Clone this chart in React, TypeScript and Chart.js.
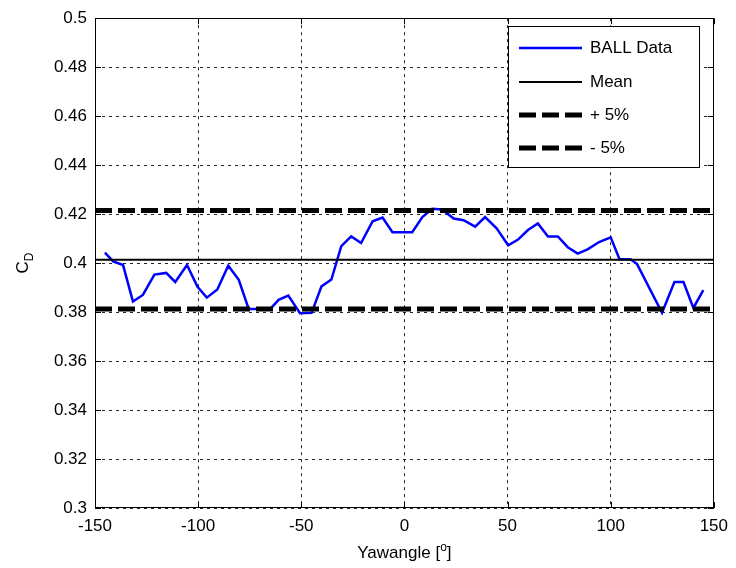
import React, { useEffect, useRef } from "react";
import { Chart, registerables } from "chart.js";

Chart.register(...registerables);

// Yaw angle [deg] and measured drag coefficient for the ball
const yawAngle = [
  -145.2, -141.2, -136.4, -131.6, -126.8, -121.2, -115.5, -111.1, -105.4, -100.3,
  -95.8, -90.7, -85.4, -80.3, -75.5, -65.0, -61.0, -56.3, -50.6, -45.0,
  -40.2, -35.4, -30.6, -25.8, -21.0, -15.4, -10.6, -5.8, 3.8, 8.7,
  13.5, 18.3, 23.9, 28.7, 34.3, 39.1, 44.7, 50.3, 55.1, 59.9,
  64.7, 69.6, 74.4, 79.2, 84.0, 88.8, 94.4, 100.0, 104.3, 109.6,
  112.8, 124.9, 130.9, 135.3, 140.1, 144.9,
];
const cdBall = [
  0.4043, 0.4007, 0.3992, 0.3843, 0.387, 0.3953, 0.396, 0.3923, 0.3992, 0.3903,
  0.3859, 0.3892, 0.3989, 0.3932, 0.3813, 0.3813, 0.385, 0.3867, 0.3795, 0.3797,
  0.3905, 0.3933, 0.4069, 0.4109, 0.4082, 0.4171, 0.4186, 0.4126, 0.4126, 0.4188,
  0.4222, 0.4219, 0.4182, 0.4175, 0.4149, 0.4188, 0.4142, 0.4073, 0.4096, 0.4135,
  0.4162, 0.4109, 0.4109, 0.4065, 0.4039, 0.4056, 0.4086, 0.4105, 0.4016, 0.4016,
  0.3996, 0.3797, 0.3923, 0.3923, 0.3817, 0.389,
];

// Reference levels across the full yaw range
const rangeX = [-150, 150];
const meanCd = 0.4014;
const plusBand = 0.4215;
const minusBand = 0.3813;

const legendLabels = ["BALL Data", "Mean", "+ 5%", "- 5%"];

const FONT = "'Liberation Sans', Arial, sans-serif";
const fmtY = (v: number) => parseFloat(v.toFixed(2)).toString();

const matlabFrame = {
  id: "matlabFrame",
  afterDraw(chart: any) {
    const { ctx, chartArea, scales } = chart;
    const { left, right, top, bottom } = chartArea;
    const xs = scales.x;
    const ys = scales.y;
    ctx.save();
    ctx.strokeStyle = "#000";
    ctx.lineWidth = 1;
    ctx.setLineDash([]);
    // axes box
    ctx.strokeRect(Math.round(left) + 0.5, Math.round(top) + 0.5, Math.round(right - left) - 1, Math.round(bottom - top) - 1);
    // inward tick marks
    const tl = 6;
    ctx.beginPath();
    xs.ticks.forEach((t: any) => {
      const px = Math.round(xs.getPixelForValue(t.value)) + 0.5;
      ctx.moveTo(px, bottom);
      ctx.lineTo(px, bottom - tl);
      ctx.moveTo(px, top);
      ctx.lineTo(px, top + tl);
    });
    ys.ticks.forEach((t: any) => {
      const py = Math.round(ys.getPixelForValue(t.value)) + 0.5;
      ctx.moveTo(left, py);
      ctx.lineTo(left + tl, py);
      ctx.moveTo(right, py);
      ctx.lineTo(right - tl, py);
    });
    ctx.stroke();

    // legend box
    const lx = 508, ly = 26, lw = 191, lh = 141;
    ctx.fillStyle = "#fff";
    ctx.fillRect(lx, ly, lw, lh);
    ctx.strokeRect(lx + 0.5, ly + 0.5, lw, lh);
    const rows = [48, 82, 115, 148];
    const styles = [
      { color: "#0000ff", width: 2.5, dash: [] as number[] },
      { color: "#000", width: 2, dash: [] as number[] },
      { color: "#000", width: 5, dash: [17, 6] },
      { color: "#000", width: 5, dash: [17, 6] },
    ];
    ctx.font = `17px ${FONT}`;
    ctx.textBaseline = "middle";
    ctx.textAlign = "left";
    rows.forEach((ry, i) => {
      const s = styles[i];
      ctx.beginPath();
      ctx.strokeStyle = s.color;
      ctx.lineWidth = s.width;
      ctx.setLineDash(s.dash);
      ctx.moveTo(519, ry);
      ctx.lineTo(582, ry);
      ctx.stroke();
      ctx.setLineDash([]);
      ctx.fillStyle = "#000";
      ctx.fillText(legendLabels[i], 590, ry);
    });

    // x axis title with superscript degree mark
    ctx.fillStyle = "#000";
    ctx.textBaseline = "alphabetic";
    const base = "Yawangle [";
    const sup = "o";
    const close = "]";
    ctx.font = `17px ${FONT}`;
    const wBase = ctx.measureText(base).width;
    const wClose = ctx.measureText(close).width;
    ctx.font = `12px ${FONT}`;
    const wSup = ctx.measureText(sup).width;
    const total = wBase + wSup + wClose;
    const cx = (left + right) / 2;
    let sx = cx - total / 2;
    const by = 558;
    ctx.font = `17px ${FONT}`;
    ctx.fillText(base, sx, by);
    sx += wBase;
    ctx.font = `12px ${FONT}`;
    ctx.fillText(sup, sx, by - 7);
    sx += wSup;
    ctx.font = `17px ${FONT}`;
    ctx.fillText(close, sx, by);

    // y axis title C_D, rotated
    ctx.save();
    ctx.translate(28, (top + bottom) / 2);
    ctx.rotate(-Math.PI / 2);
    ctx.font = `17px ${FONT}`;
    const wC = ctx.measureText("C").width;
    ctx.font = `12px ${FONT}`;
    const wD = ctx.measureText("D").width;
    const start = -(wC + wD) / 2;
    ctx.font = `17px ${FONT}`;
    ctx.fillText("C", start, 0);
    ctx.font = `12px ${FONT}`;
    ctx.fillText("D", start + wC, 5);
    ctx.restore();

    ctx.restore();
  },
};

export default function App() {
  const ref = useRef<HTMLCanvasElement>(null);

  useEffect(() => {
    if (!ref.current) return;
    const ballPoints = yawAngle.map((x, i) => ({ x, y: cdBall[i] }));
    const level = (v: number) => rangeX.map((x) => ({ x, y: v }));
    const chart = new Chart(ref.current, {
      type: "line",
      data: {
        datasets: [
          {
            label: legendLabels[0],
            data: ballPoints,
            borderColor: "#0000ff",
            borderWidth: 2.5,
            pointRadius: 0,
            tension: 0,
            order: 4,
          },
          {
            label: legendLabels[1],
            data: level(meanCd),
            borderColor: "#000",
            borderWidth: 2,
            pointRadius: 0,
            order: 3,
          },
          {
            label: legendLabels[2],
            data: level(plusBand),
            borderColor: "#000",
            borderWidth: 5,
            borderDash: [17, 6],
            pointRadius: 0,
            order: 2,
          },
          {
            label: legendLabels[3],
            data: level(minusBand),
            borderColor: "#000",
            borderWidth: 5,
            borderDash: [17, 6],
            pointRadius: 0,
            order: 1,
          },
        ],
      },
      options: {
        responsive: false,
        animation: false,
        events: [],
        layout: { padding: { left: 0, top: 8, right: 16, bottom: 0 } },
        plugins: { legend: { display: false }, tooltip: { enabled: false } },
        scales: {
          x: {
            type: "linear",
            min: -150,
            max: 150,
            afterFit: (s: any) => {
              s.height = 60;
            },
            ticks: {
              stepSize: 50,
              autoSkip: false,
              maxRotation: 0,
              color: "#000",
              padding: 8,
              font: { family: FONT, size: 17 },
              callback: (v: any) => String(v),
            },
            grid: { color: "rgba(0,0,0,0.85)", lineWidth: 1, drawTicks: false },
            border: { display: false, dash: [3, 4] },
          },
          y: {
            type: "linear",
            min: 0.3,
            max: 0.5,
            afterFit: (s: any) => {
              s.width = 95;
            },
            ticks: {
              stepSize: 0.02,
              autoSkip: false,
              color: "#000",
              padding: 8,
              font: { family: FONT, size: 17 },
              callback: (v: any) => fmtY(Number(v)),
            },
            grid: { color: "rgba(0,0,0,0.85)", lineWidth: 1, drawTicks: false },
            border: { display: false, dash: [3, 4] },
          },
        },
      },
      plugins: [matlabFrame],
    });
    return () => chart.destroy();
  }, []);

  return (
    <div style={{ position: "absolute", left: 0, top: 0, width: 736, height: 568, background: "#fff" }}>
      <canvas ref={ref} width={736} height={568} />
    </div>
  );
}
